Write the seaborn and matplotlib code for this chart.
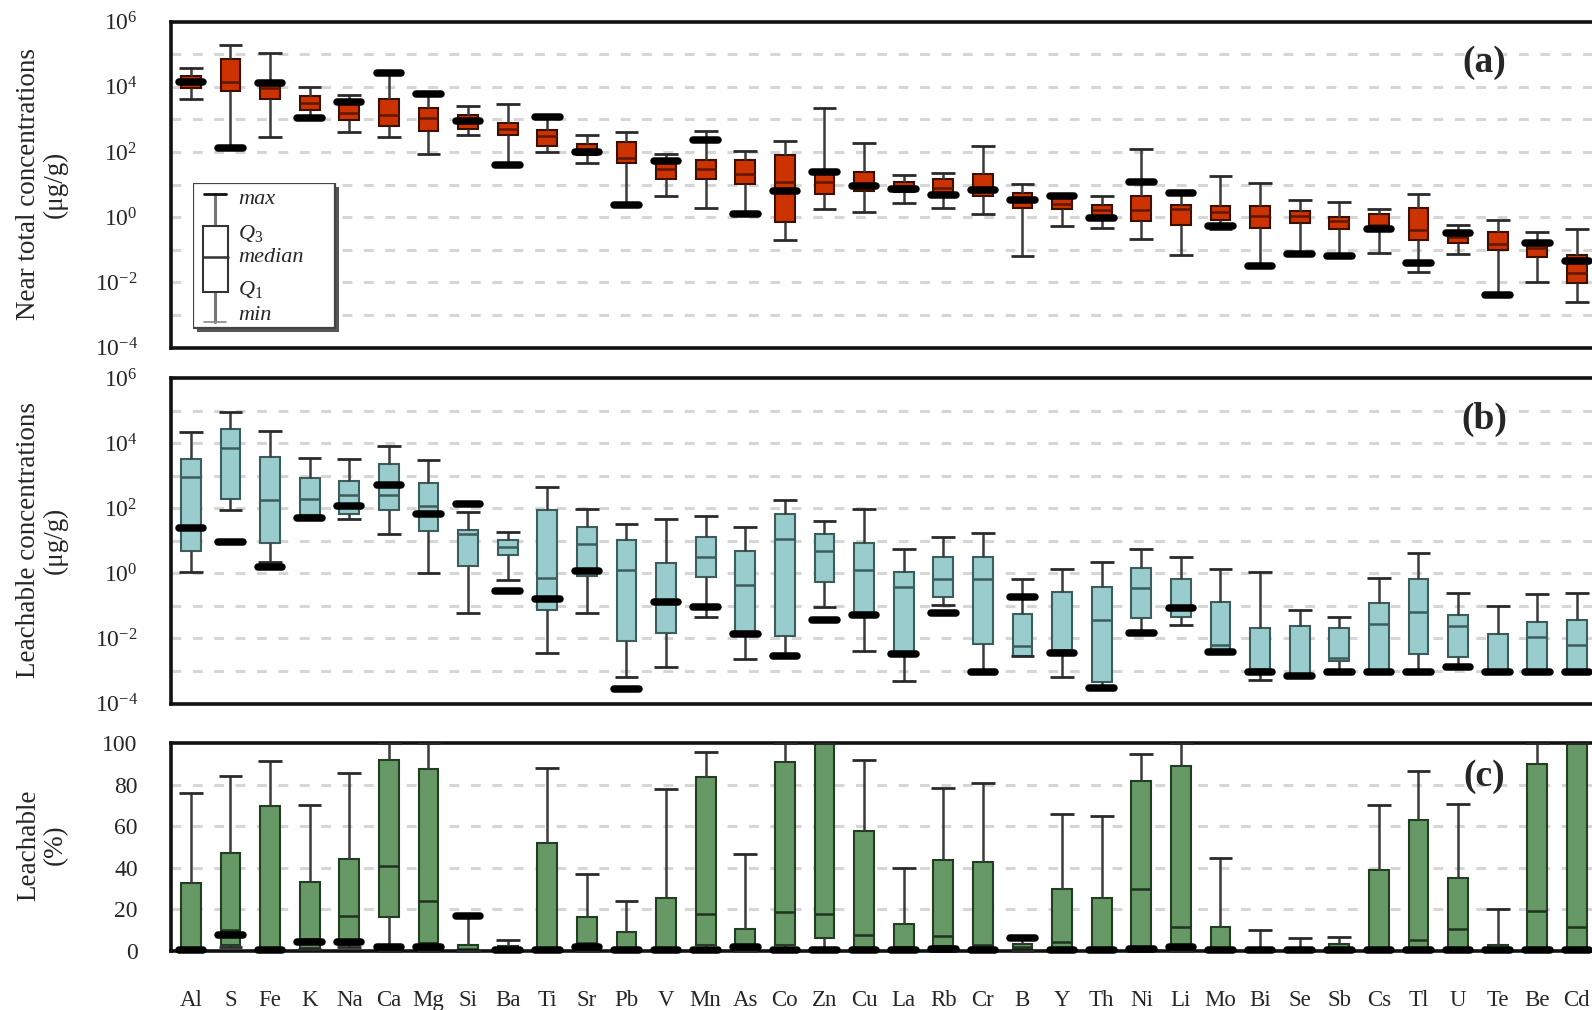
import numpy as np
import pandas as pd
import matplotlib
matplotlib.use("Agg")
import matplotlib.pyplot as plt
import seaborn as sns
from matplotlib.ticker import FixedLocator, FuncFormatter, NullLocator
from matplotlib.patches import Rectangle

# ---------------- data ----------------
elements = ["Al", "S", "Fe", "K", "Na", "Ca", "Mg", "Si", "Ba", "Ti", "Sr", "Pb",
            "V", "Mn", "As", "Co", "Zn", "Cu", "La", "Rb", "Cr", "B", "Y", "Th",
            "Ni", "Li", "Mo", "Bi", "Se", "Sb", "Cs", "Tl", "U", "Te", "Be", "Cd"]

# (a) near total concentrations, log10(ug/g)
a_min = [3.61, 2.12, 2.47, 3.03, 2.60, 2.47, 1.94, 2.52, 1.61, 2.01, 1.66, 0.38,
         0.64, 0.28, 0.08, -0.69, 0.25, 0.15, 0.43, 0.28, 0.08, -1.20, -0.28, -0.33,
         -0.67, -1.15, -0.36, -1.50, -1.12, -1.20, -1.10, -1.69, -1.12, -2.40, -1.99, -2.60]
a_q1 = [3.95, 3.88, 3.61, 3.29, 2.98, 2.80, 2.63, 2.70, 2.52, 2.17, 1.91, 1.66,
        1.18, 1.18, 1.03, -0.16, 0.72, 0.79, 0.76, 0.69, 0.64, 0.28, 0.25, -0.04,
        -0.13, -0.23, -0.08, -0.33, -0.18, -0.38, -0.40, -0.71, -0.79, -1.01, -1.22, -2.01]
a_med = [4.15, 4.15, 3.95, 3.49, 3.19, 3.14, 3.03, 2.96, 2.70, 2.49, 2.05, 1.81,
         1.48, 1.48, 1.32, 1.07, 1.07, 0.96, 0.94, 0.89, 0.82, 0.52, 0.41, 0.23,
         0.22, 0.25, 0.15, 0.03, 0.03, -0.13, -0.23, -0.40, -0.60, -0.81, -0.94, -1.73]
a_q3 = [4.33, 4.84, 4.12, 3.70, 3.54, 3.61, 3.36, 3.14, 2.88, 2.66, 2.25, 2.29,
        1.71, 1.74, 1.74, 1.89, 1.37, 1.38, 1.07, 1.17, 1.33, 0.74, 0.64, 0.38,
        0.66, 0.38, 0.33, 0.33, 0.18, 0.01, 0.08, 0.28, -0.48, -0.46, -0.75, -1.15]
a_max = [4.58, 5.28, 5.04, 3.98, 3.75, 4.41, 3.78, 3.41, 3.47, 3.06, 2.52, 2.60,
         1.94, 2.63, 2.04, 2.34, 3.36, 2.27, 1.30, 1.35, 2.19, 1.03, 0.66, 0.66,
         2.09, 0.74, 1.25, 1.05, 0.51, 0.46, 0.26, 0.72, -0.23, -0.10, -0.46, -0.36]
a_mark = [4.15, 2.12, 4.10, 3.03, 3.54, 4.41, 3.78, 2.96, 1.61, 3.06, 2.01, 0.38,
          1.71, 2.35, 0.08, 0.79, 1.37, 0.96, 0.86, 0.69, 0.82, 0.52, 0.64, -0.04,
          1.07, 0.74, -0.28, -1.50, -1.12, -1.20, -0.38, -1.40, -0.48, -2.40, -0.79, -1.35]

# (b) leachable concentrations, log10(ug/g)
b_min = [0.03, 1.95, 0.36, 1.69, 1.66, 1.21, 0.02, -1.23, -0.21, -2.44, -1.21, -3.20,
         -2.89, -1.33, -2.64, -2.54, -1.05, -2.38, -3.30, -0.97, -3.03, -2.54, -3.18, -3.52,
         -1.83, -1.59, -2.41, -3.28, -3.16, -3.03, -3.03, -3.03, -2.89, -3.03, -3.03, -3.03]
b_q1 = [0.67, 2.28, 0.92, 1.79, 1.83, 1.95, 1.31, 0.23, 0.56, -1.13, -0.08, -2.08,
        -1.83, -0.10, -1.87, -1.93, -0.26, -1.28, -2.48, -0.74, -2.18, -2.54, -2.46, -3.33,
        -1.38, -1.33, -2.41, -3.03, -3.16, -2.69, -3.03, -2.48, -2.56, -3.03, -3.03, -3.03]
b_med = [2.95, 3.85, 2.24, 2.28, 2.41, 2.41, 2.07, 1.21, 0.82, -0.15, 0.89, 0.10,
         -0.87, 0.51, -0.37, 1.05, 0.70, 0.10, -0.41, -0.18, -0.18, -2.23, -2.35, -1.44,
         -0.46, -1.08, -2.21, -2.95, -3.10, -2.60, -1.57, -1.20, -1.62, -3.00, -1.95, -2.21]
b_q3 = [3.51, 4.43, 3.57, 2.92, 2.85, 3.36, 2.77, 1.33, 1.03, 1.95, 1.41, 1.03,
        0.33, 1.13, 0.67, 1.83, 1.20, 0.94, 0.05, 0.51, 0.51, -1.26, -0.56, -0.41,
        0.15, -0.18, -0.87, -1.69, -1.61, -1.67, -0.92, -0.18, -1.28, -1.87, -1.49, -1.42]
b_max = [4.33, 4.97, 4.38, 3.54, 3.52, 3.92, 3.49, 1.87, 1.27, 2.65, 1.98, 1.52,
         1.66, 1.77, 1.42, 2.26, 1.61, 1.98, 0.75, 1.13, 1.23, -0.18, 0.13, 0.34,
         0.75, 0.49, 0.13, 0.05, -1.13, -1.33, -0.13, 0.62, -0.59, -1.00, -0.65, -0.62]
b_mark = [1.38, 0.97, 0.18, 1.69, 2.08, 2.70, 1.82, 2.13, -0.54, -0.80, 0.08, -3.54,
          -0.87, -1.05, -1.87, -2.54, -1.44, -1.28, -2.48, -1.21, -3.03, -0.74, -2.46, -3.52,
          -1.83, -1.08, -2.41, -3.03, -3.16, -3.03, -3.03, -3.03, -2.89, -3.03, -3.03, -3.03]

# (c) leachable fraction, %
c_min = [0, 1.8, 0, 0.8, 2.0, 0, 0, 0, 0, 0, 0, 0,
         0, 0, 0, 0, 1.3, 0, 0, 0, 0, 0, 0, 0,
         0, 0, 0, 0, 0, 0, 0, 0, 0, 0, 0, 0]
c_q1 = [0.5, 3.0, 0.3, 1.3, 3.0, 16.2, 3.7, 0.3, 0.2, 0.2, 1.0, 0.3,
        0.3, 2.9, 0.5, 2.9, 6.1, 1.6, 1.5, 2.4, 1.0, 0.8, 1.2, 0.3,
        1.3, 1.8, 0.3, 0.1, 0.1, 0.5, 0.3, 0.8, 0.8, 0.3, 0.8, 0.8]
c_med = [1.0, 10.0, 0.5, 6.0, 16.9, 41.0, 24.0, 1.0, 0.5, 0.5, 3.7, 0.8,
         0.8, 17.8, 1.5, 18.6, 17.8, 7.7, 2.0, 7.2, 2.9, 2.0, 4.5, 0.8,
         29.9, 11.7, 0.8, 0.3, 0.2, 1.0, 0.8, 5.3, 10.4, 0.8, 19.4, 11.7]
c_q3 = [32.5, 47.0, 69.5, 33.4, 44.0, 92.0, 87.6, 2.9, 2.4, 52.0, 16.2, 9.3,
        25.4, 83.6, 10.4, 90.7, 100.0, 57.8, 13.0, 43.8, 43.0, 3.2, 29.9, 25.4,
        81.5, 88.8, 11.4, 0.8, 0.5, 3.2, 39.0, 63.0, 35.0, 2.9, 90.0, 100.0]
c_max = [76.0, 84.0, 91.5, 70.0, 85.5, 100.0, 100.0, 17.0, 5.3, 88.0, 37.0, 23.8,
         78.0, 95.5, 46.7, 100.0, 100.0, 92.0, 39.8, 78.3, 80.7, 6.1, 66.0, 65.0,
         94.7, 100.0, 44.6, 10.1, 6.1, 6.6, 70.3, 86.7, 70.6, 20.2, 100.0, 100.0]
c_mark = [0.5, 7.7, 0.3, 4.5, 4.2, 2.0, 1.8, 17.0, 0.5, 0.5, 2.0, 0.5,
          0.5, 0.5, 1.8, 0.5, 0.5, 0.5, 0.5, 1.0, 0.5, 6.1, 0.5, 0.5,
          1.0, 1.8, 0.5, 0.3, 0.3, 0.5, 0.5, 0.5, 0.5, 0.3, 0.5, 0.5]

panel_tags = ["(a)", "(b)", "(c)"]
ylabels = ["Near total concentrations\n(\u03bcg/g)",
           "Leachable concentrations\n(\u03bcg/g)",
           "Leachable\n(%)"]
legend_words = ["max", "$Q_3$", "median", "$Q_1$", "min"]

# ---------------- style ----------------
sns.set_style("white")
plt.rcParams["font.family"] = ["Liberation Serif", "DejaVu Serif"]
plt.rcParams["mathtext.fontset"] = "custom"
plt.rcParams["mathtext.rm"] = "Liberation Serif"
plt.rcParams["mathtext.it"] = "Liberation Serif:italic"
plt.rcParams["axes.unicode_minus"] = True

W, H = 1592, 1010
fig = plt.figure(figsize=(W / 100, H / 100), dpi=100)


def frac_box(top_px, bottom_px, left_px=171.0, right_px=1596.7):
    return [left_px / W, 1 - bottom_px / H, (right_px - left_px) / W, (bottom_px - top_px) / H]


ax_a = fig.add_axes(frac_box(21.5, 347.5))
ax_b = fig.add_axes(frac_box(378.0, 703.5))
ax_c = fig.add_axes(frac_box(743.0, 951.0))


def long_form(mins, q1s, meds, q3s, maxs, log):
    rows = []
    for el, vals in zip(elements, zip(mins, q1s, meds, q3s, maxs)):
        for v in vals:
            rows.append((el, 10.0 ** v if log else float(v)))
    return pd.DataFrame(rows, columns=["element", "value"])


panels = [
    (ax_a, (a_min, a_q1, a_med, a_q3, a_max), a_mark, True, "#CC3300", "#3a1000", "#5c1800"),
    (ax_b, (b_min, b_q1, b_med, b_q3, b_max), b_mark, True, "#99CCCC", "#3d5c5c", "#3d5c5c"),
    (ax_c, (c_min, c_q1, c_med, c_q3, c_max), c_mark, False, "#669966", "#223d22", "#1f331f"),
]

xpos = np.arange(len(elements))

for i, (ax, stats, marks, log, fill, edge, medc) in enumerate(panels):
    df = long_form(*stats, log=log)
    sns.boxplot(data=df, x="element", y="value", order=elements, ax=ax,
                color=fill, saturation=1, linecolor=edge, linewidth=1.5,
                width=0.5, whis=np.inf, showcaps=False, fliersize=0,
                log_scale=log,
                whiskerprops=dict(color="#3a3a3a", linewidth=1.8),
                medianprops=dict(color=medc, linewidth=1.8))
    conv = (lambda v: 10.0 ** np.asarray(v, float)) if log else (lambda v: np.asarray(v, float))
    # caps at min and max
    ax.hlines(conv(stats[4]), xpos - 0.3, xpos + 0.3, color="#2a2a2a", linewidth=2.0, zorder=4)
    ax.hlines(conv(stats[0]), xpos - 0.3, xpos + 0.3, color="#2a2a2a", linewidth=2.0, zorder=4,
              clip_on=False)
    # thick black marks
    ax.hlines(conv(marks), xpos - 0.31, xpos + 0.31, color="black", linewidth=5.4,
              capstyle="round", zorder=6, clip_on=False)

    ax.set_xlim(-0.5, len(elements) - 0.5)
    ax.set_xlabel("")
    ax.set_ylabel("")
    ax.set_axisbelow(True)

    if log:
        ax.set_yscale("log")
        ax.set_ylim(1e-4, 1e6)
        ax.yaxis.set_major_locator(FixedLocator(10.0 ** np.arange(-4, 7)))
        ax.yaxis.set_minor_locator(NullLocator())
        ax.yaxis.set_major_formatter(FuncFormatter(
            lambda v, p: (r"$10^{%d}$" % int(round(np.log10(v)))) if int(round(np.log10(v))) % 2 == 0 else ""))
        grid_vals = 10.0 ** np.arange(-3, 6)
    else:
        ax.set_ylim(0, 100)
        ax.yaxis.set_major_locator(FixedLocator([0, 20, 40, 60, 80, 100]))
        grid_vals = [20, 40, 60, 80]

    for gv in grid_vals:
        ax.axhline(gv, color="#d6d6d6", linewidth=2.2, linestyle=(0, (3.2, 3.8)), zorder=0)

    ax.grid(False)
    ax.tick_params(axis="y", which="major", direction="out", length=18, width=1.8,
                   color="#222222", labelsize=17, pad=6)
    ax.tick_params(axis="x", which="major", direction="out", length=15.8, width=1.5,
                   color="#222222", labelsize=16.5, pad=12,
                   labelbottom=(i == 2))
    for s in ["top", "left", "bottom"]:
        ax.spines[s].set_visible(True)
        ax.spines[s].set_linewidth(2.6)
        ax.spines[s].set_color("#111111")
    ax.spines["right"].set_visible(False)

    fig.text(1484 / W, 1 - [63, 419, 777][i] / H, panel_tags[i], fontsize=27,
             fontweight="bold", ha="center", va="center")

ax_c.set_xticks(xpos)
ax_c.set_xticklabels(elements)

# y labels
for lbl, ycen in zip(ylabels, [184.5, 540.0, 845.0]):
    fig.text(42 / W, 1 - ycen / H, lbl, rotation=90, ha="center", va="center",
             fontsize=19.5, linespacing=1.05, multialignment="center")

# ---------------- legend box in panel (a) ----------------
lg = fig.add_axes([193 / W, 1 - 334 / H, (341 - 193) / W, (334 - 183) / H])
lg.set_xlim(193, 341)
lg.set_ylim(334, 183)
lg.axis("off")
lg.add_patch(Rectangle((197, 187), 142, 145, facecolor="#555555", edgecolor="none", zorder=1))
lg.add_patch(Rectangle((193, 183), 142, 145, facecolor="white", edgecolor="#444444",
                       linewidth=1.6, zorder=2))
lg.plot([215, 215], [194, 226], color="#777777", linewidth=2.2, zorder=3)
lg.plot([215, 215], [292, 322], color="#777777", linewidth=2.2, zorder=3)
lg.plot([204, 226], [194, 194], color="#111111", linewidth=2.0, zorder=4)
lg.plot([204, 226], [322, 322], color="#888888", linewidth=1.2, zorder=4)
lg.add_patch(Rectangle((203, 226), 25, 66, facecolor="white", edgecolor="#333333",
                       linewidth=1.5, zorder=4))
lg.plot([203, 228], [257, 257], color="#333333", linewidth=1.8, zorder=5)
for word, yy in zip(legend_words, [200, 234, 257, 290, 315]):
    lg.text(238, yy, word, fontsize=16, fontstyle="italic", ha="left", va="center", zorder=6)

fig.savefig("out.png", dpi=100)
